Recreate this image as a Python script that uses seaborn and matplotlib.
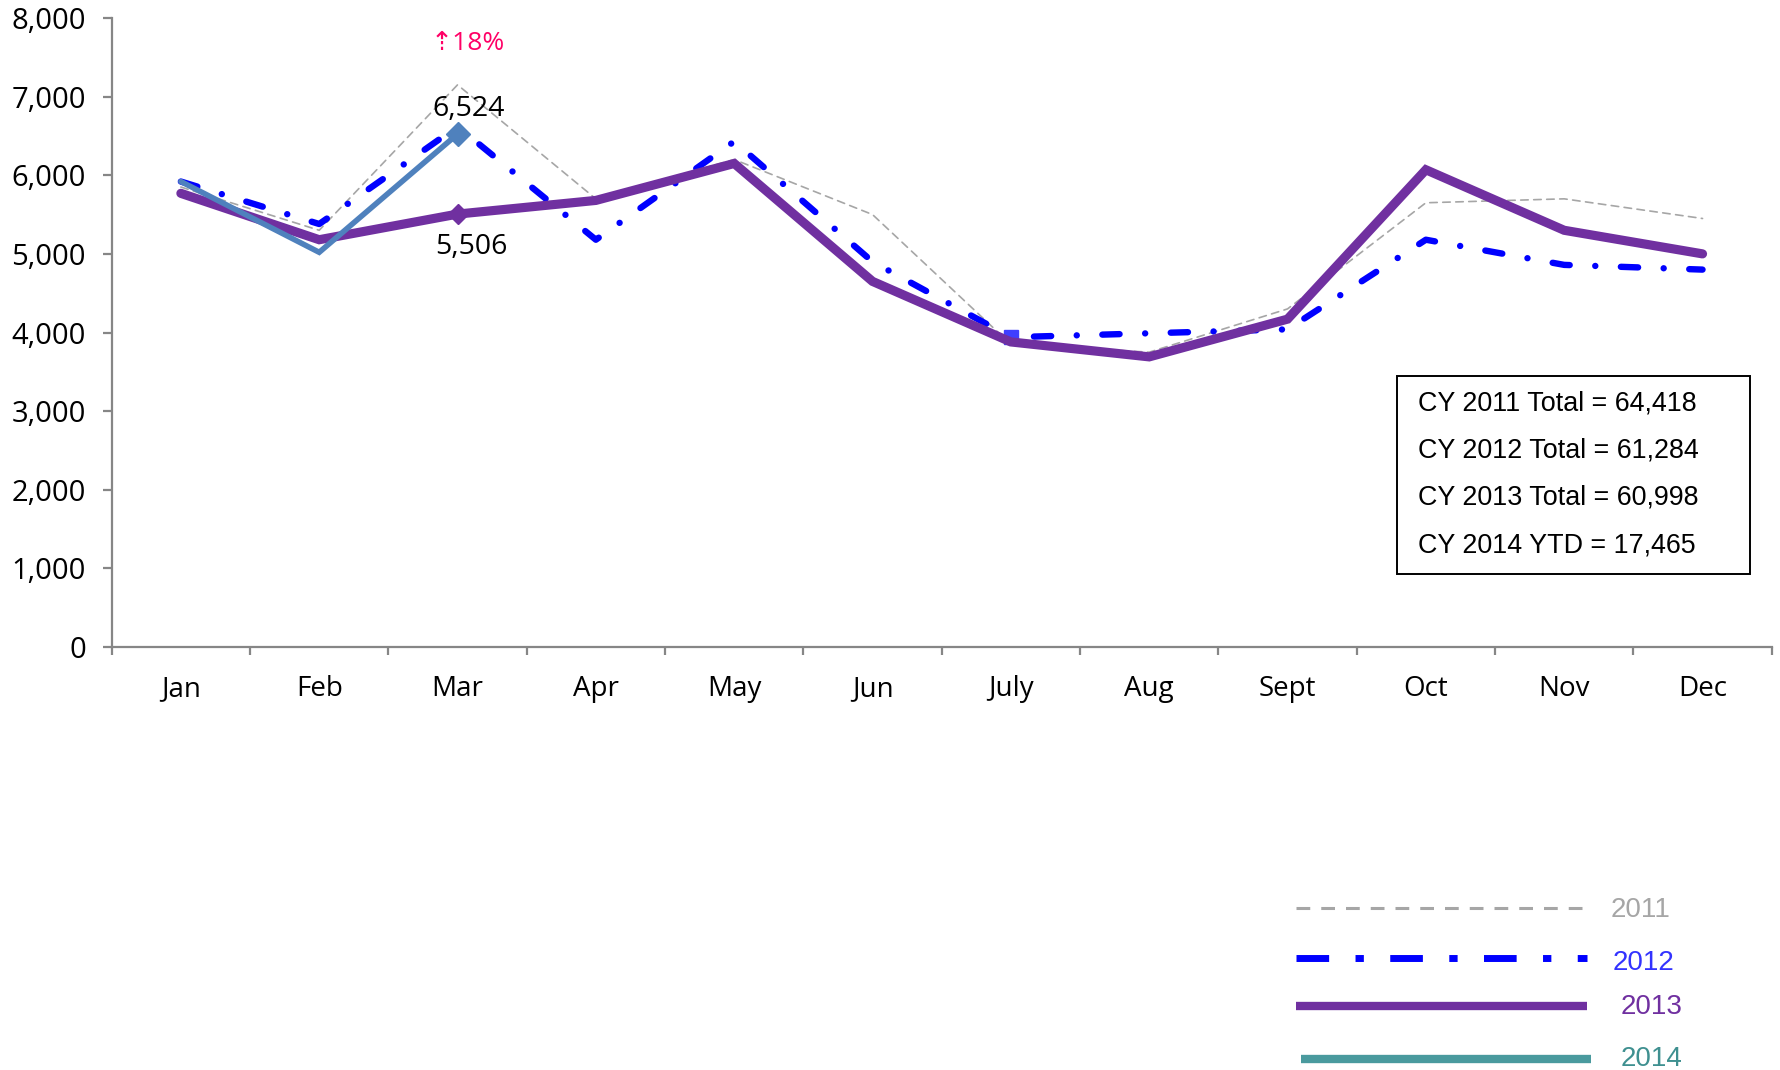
import numpy as np
import pandas as pd
import matplotlib
matplotlib.use("Agg")
import matplotlib.pyplot as plt
import seaborn as sns
from matplotlib.lines import Line2D
from matplotlib.patches import Rectangle
from matplotlib.ticker import FuncFormatter, FixedLocator

# ---------------- data ----------------
months = ["Jan", "Feb", "Mar", "Apr", "May", "Jun", "July", "Aug", "Sept", "Oct", "Nov", "Dec"]
y2011 = [5850, 5300, 7150, 5700, 6200, 5500, 3850, 3750, 4300, 5650, 5700, 5450]
y2012 = [5920, 5380, 6620, 5180, 6430, 4900, 3940, 3990, 4040, 5180, 4860, 4800]
y2013 = [5770, 5180, 5506, 5680, 6150, 4650, 3880, 3690, 4170, 6070, 5300, 5000]
y2014 = [5920, 5020, 6524]
years = ["2011", "2012", "2013", "2014"]
box_lines = ["CY 2011 Total = 64,418", "CY 2012 Total = 61,284",
             "CY 2013 Total = 60,998", "CY 2014 YTD = 17,465"]

W, H = 1781, 1070
sns.set_style("white")
plt.rcParams["font.family"] = ["Open Sans", "DejaVu Sans"]

fig = plt.figure(figsize=(W / 100, H / 100), dpi=100)


def fx(px):
    return px / W


def fy(py):
    return 1 - py / H


ax_left, ax_right, ax_top, ax_bot = 111.7, 1771.7, 18.0, 647.0
ax = fig.add_axes([fx(ax_left), fy(ax_bot), fx(ax_right - ax_left), (ax_bot - ax_top) / H])

series = [
    dict(vals=y2011, color="#A6A6A6", lw=1.2, ls=(0, (4.5, 3.3)), z=2),
    dict(vals=y2012, color="#0000FF", lw=4.6, ls=(0, (2.7, 4.0, 0.01, 4.0)), z=3),
    dict(vals=y2013, color="#7030A0", lw=6.6, ls="-", z=4),
    dict(vals=y2014, color="#4F81BD", lw=4.0, ls="-", z=5),
]
for s in series:
    df = pd.DataFrame({"x": np.arange(len(s["vals"])), "v": s["vals"]})
    sns.lineplot(data=df, x="x", y="v", ax=ax, color=s["color"], linewidth=s["lw"],
                 zorder=s["z"])
    ln = ax.lines[-1]
    ln.set_linestyle(s["ls"])
    ln.set_dash_capstyle("round")
    ln.set_solid_capstyle("round")
    ln.set_solid_joinstyle("miter")

# markers
ax.plot([6], [y2012[6]], marker="s", ms=10.5, color="#3F3FFF", ls="none", zorder=3.5)
ax.plot([2], [y2013[2]], marker="D", ms=10, color="#7030A0", ls="none", zorder=4.5)
ax.plot([2], [y2014[2]], marker="D", ms=12, color="#4F81BD", ls="none", zorder=5.5)

# axes styling
ax.set_xlim(-0.5, 11.5)
ax.set_ylim(0, 8000)
ax.set_xlabel("")
ax.set_ylabel("")
for sp in ["top", "right"]:
    ax.spines[sp].set_visible(False)
for sp in ["left", "bottom"]:
    ax.spines[sp].set_color("#868686")
    ax.spines[sp].set_linewidth(1.6)

ax.yaxis.set_major_locator(FixedLocator(np.arange(0, 8001, 1000)))
ax.yaxis.set_major_formatter(FuncFormatter(lambda v, p: f"{int(v):,}"))
ax.tick_params(axis="y", which="major", length=6.5, width=1.6, color="#868686",
               direction="out", left=True, pad=12, labelsize=21, labelcolor="black")

ax.xaxis.set_major_locator(FixedLocator(np.arange(-0.5, 12, 1)))
ax.xaxis.set_major_formatter(FuncFormatter(lambda v, p: ""))
ax.xaxis.set_minor_locator(FixedLocator(np.arange(12)))
ax.xaxis.set_minor_formatter(FuncFormatter(lambda v, p: months[int(round(v))]))
ax.tick_params(axis="x", which="major", length=6, width=1.6, color="#868686",
               direction="out", bottom=True)
ax.tick_params(axis="x", which="minor", length=0, pad=20, labelsize=20,
               labelcolor="black", bottom=True)
ax.grid(False)

# annotations
pct = (y2014[2] - y2013[2]) / y2013[2] * 100
ax.annotate(f"{y2014[2]:,}", xy=(2, y2014[2]), xytext=(8, 18), textcoords="offset points",
            ha="center", va="center", fontsize=20.5, color="black", zorder=6)
ax.annotate(f"{y2013[2]:,}", xy=(2, y2013[2]), xytext=(10, -24), textcoords="offset points",
            ha="center", va="center", fontsize=20.5, color="black", zorder=6)
ax.annotate(f"\u21e1{pct:.0f}%", xy=(2, y2014[2]), xytext=(7, 65), textcoords="offset points",
            ha="center", va="center", fontsize=19, color="#FF0066", zorder=6)

# totals box
bx0, bx1, by0, by1 = 1397, 1750, 376, 574
fig.patches.append(Rectangle((fx(bx0), fy(by1)), fx(bx1 - bx0), (by1 - by0) / H,
                             transform=fig.transFigure, fill=True, facecolor="white",
                             edgecolor="black", linewidth=1.4, zorder=10))
for i, t in enumerate(box_lines):
    fig.text(fx(1418), fy(403 + i * 47.5), t, ha="left", va="center", fontsize=19.4,
             family=["Liberation Sans"], color="black", zorder=11)

# custom legend
leg = [
    dict(x0=1296, x1=1587, y=908, color="#A6A6A6", lw=2.2, ls=(0, (4.5, 3.6)),
         tx=1611, ty=910, tc="#A6A6A6"),
    dict(x0=1296, x1=1587, y=958, color="#0000FF", lw=5.0, ls=(0, (4.7, 3.8, 1.2, 3.8)),
         tx=1613, ty=963, tc="#3333FF"),
    dict(x0=1296, x1=1587, y=1006, color="#7030A0", lw=6.0, ls="-",
         tx=1621, ty=1007, tc="#7030A0"),
    dict(x0=1301, x1=1591, y=1059, color="#4A9A9E", lw=6.0, ls="-",
         tx=1621, ty=1059, tc="#3F9090"),
]
for yr, d in zip(years, leg):
    l = Line2D([fx(d["x0"]), fx(d["x1"])], [fy(d["y"]), fy(d["y"])], transform=fig.transFigure,
               color=d["color"], lw=d["lw"], linestyle=d["ls"], solid_capstyle="butt",
               dash_capstyle="butt")
    fig.lines.append(l)
    fig.text(fx(d["tx"]), fy(d["ty"]), yr, ha="left", va="center", fontsize=20,
             family=["Liberation Sans"], color=d["tc"])

fig.savefig("out.png", dpi=100, facecolor="white")
